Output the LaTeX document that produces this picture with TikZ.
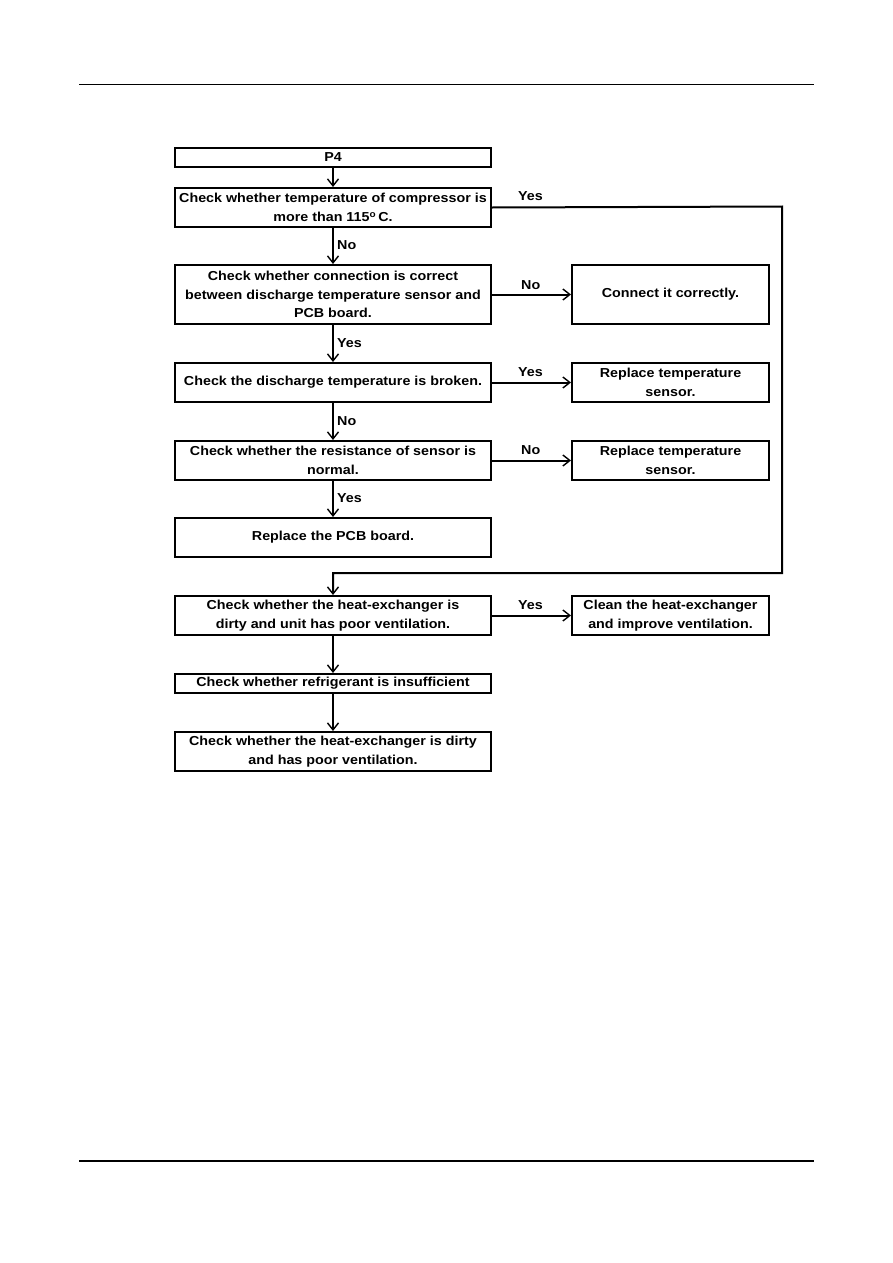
\documentclass[tikz,border=0pt]{standalone}
\usepackage{fontspec}
\setmainfont{Liberation Sans}[FakeStretch=1.1]
\usetikzlibrary{arrows.meta}
\begin{document}
\begin{tikzpicture}[x=1pt,y=-1pt,
  box/.style={draw, line width=2pt, inner sep=0pt, align=center, anchor=north west,
    font=\fontsize{13}{18.5}\selectfont\bfseries},
  lbl/.style={font=\fontsize{13}{15}\selectfont\bfseries, inner sep=0pt, anchor=west},
  arr/.style={line width=2pt, -{Straight Barb[length=7pt,width=11pt,line width=1.4pt]}}
]
\useasboundingbox (0,0) rectangle (893,1263);
\draw[line width=1pt] (79,84) -- (814,84);
\draw[line width=2pt] (79,1161) -- (814,1161);

% left column
\node[box, minimum width=316pt, minimum height=19pt] (p4) at (174,147) {P4};
\node[box, minimum width=316pt, minimum height=39pt] (b2) at (174,187) {Check whether temperature of compressor is\\more than 115\textsuperscript{o}\,C.};
\node[box, minimum width=316pt, minimum height=59pt] (b3) at (174,264) {Check whether connection is correct\\between discharge temperature sensor and\\PCB board.};
\node[box, minimum width=316pt, minimum height=39pt] (b4) at (174,362) {Check the discharge temperature is broken.};
\node[box, minimum width=316pt, minimum height=39pt] (b5) at (174,440) {Check whether the resistance of sensor is\\normal.};
\node[box, minimum width=316pt, minimum height=39pt] (b6) at (174,517) {Replace the PCB board.};
\node[box, minimum width=316pt, minimum height=39pt] (b7) at (174,595) {Check whether the heat-exchanger is\\dirty and unit has poor ventilation.};
\node[box, minimum width=316pt, minimum height=19pt] (b8) at (174,673) {Check whether refrigerant is insufficient};
\node[box, minimum width=316pt, minimum height=39pt] (b9) at (174,731) {Check whether the heat-exchanger is dirty\\and has poor ventilation.};

% right column
\node[box, minimum width=197pt, minimum height=59pt] (r3) at (571,264) {Connect it correctly.};
\node[box, minimum width=197pt, minimum height=39pt] (r4) at (571,362) {Replace temperature\\sensor.};
\node[box, minimum width=197pt, minimum height=39pt] (r5) at (571,440) {Replace temperature\\sensor.};
\node[box, minimum width=197pt, minimum height=39pt] (r7) at (571,595) {Clean the heat-exchanger\\and improve ventilation.};

% vertical arrows
\draw[arr] (p4) -- (b2);
\draw[arr] (b2) -- (b3);
\draw[arr] (b3) -- (b4);
\draw[arr] (b4) -- (b5);
\draw[arr] (b5) -- (b6);
\draw[arr] (b7) -- (b8);
\draw[arr] (b8) -- (b9);

% horizontal arrows
\draw[arr] (b3.east) -- (r3.west);
\draw[arr] (b4.east) -- (r4.west);
\draw[arr] (b5.east) -- (r5.west);
\draw[arr] (b7.east) -- (r7.west);

% Yes loop
\coordinate (c1) at (782,206.5);
\coordinate (c2) at (782,573);
\draw[arr] (b2.east) -- (c1) -- (c2) -| (b7.north);

% labels
\node[lbl] (l1) at (518,196) {Yes};
\node[lbl] (l2) at (337,245) {No};
\node[lbl] (l3) at (521,285) {No};
\node[lbl] (l4) at (337,343) {Yes};
\node[lbl] (l5) at (518,372) {Yes};
\node[lbl] (l6) at (337,421) {No};
\node[lbl] (l7) at (521,450) {No};
\node[lbl] (l8) at (337,498) {Yes};
\node[lbl] (l9) at (518,605) {Yes};
\end{tikzpicture}
\end{document}
